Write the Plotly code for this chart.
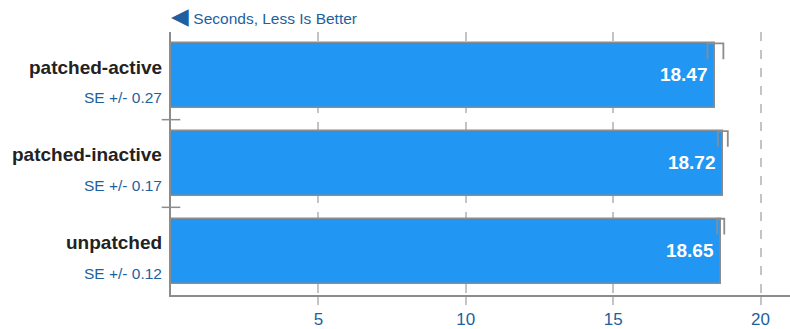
import plotly.graph_objects as go

categories = ["patched-active", "patched-inactive", "unpatched"]
values = [18.47, 18.72, 18.65]
se = [0.27, 0.17, 0.12]
x_ticks = [5, 10, 15, 20]
unit_label = "Seconds, Less Is Better"

BAR_COLOR = "#2196f3"
EDGE = "#8c8c8c"
BLUE_TEXT = "#1e5f9e"
FONT = "Liberation Sans, Arial, Helvetica, sans-serif"

n = len(categories)
ypos = [n - 1 - i for i in range(n)]  # first category at top
half = 0.37

fig = go.Figure()
fig.add_trace(go.Bar(
    x=values, y=ypos, orientation="h", width=2 * half,
    marker=dict(color=BAR_COLOR, line=dict(color=EDGE, width=1.5)),
    text=[f"{v:.2f}\u2009" for v in values], textposition="inside",
    insidetextanchor="end",
    textfont=dict(color="white", size=19, family=FONT, weight="bold"),
    hoverinfo="skip", showlegend=False,
))

ex, ey = [], []
for v, s, y in zip(values, se, ypos):
    ex += [v - s, v - s, v + s, v + s, None]
    ey += [y + 0.19, y + half, y + half, y + 0.19, None]
fig.add_trace(go.Scatter(x=ex, y=ey, mode="lines",
                         line=dict(color=EDGE, width=1.8),
                         hoverinfo="skip", showlegend=False))

annotations = []
for c, s, y in zip(categories, se, ypos):
    annotations.append(dict(x=-0.012, xref="paper", y=y + 0.1, yref="y",
                            text=f"<b>{c}</b>", showarrow=False, xanchor="right",
                            yanchor="middle",
                            font=dict(size=19, color="#222222", family=FONT)))
    annotations.append(dict(x=-0.012, xref="paper", y=y - 0.25, yref="y",
                            text=f"SE +/- {s:.2f}", showarrow=False, xanchor="right",
                            yanchor="middle",
                            font=dict(size=15.5, color=BLUE_TEXT, family=FONT)))
annotations.append(dict(x=-0.004, xref="paper", y=1.0, yref="paper", yshift=16,
                        text=f"<span style='color:#1f5f9f;font-size:23px'>◀</span> {unit_label}",
                        showarrow=False, xanchor="left", yanchor="middle",
                        font=dict(size=15.5, color=BLUE_TEXT, family=FONT)))

shapes = []
for k in range(n - 1):
    shapes.append(dict(type="line", xref="paper", x0=-0.015, x1=0.015,
                       yref="y", y0=k + 0.5, y1=k + 0.5,
                       line=dict(color=EDGE, width=1.5)))

fig.update_layout(
    width=790, height=329,
    margin=dict(l=171, r=0, t=32, b=31),
    plot_bgcolor="white", paper_bgcolor="white",
    font=dict(family=FONT),
    bargap=0,
    annotations=annotations, shapes=shapes,
    xaxis=dict(range=[0, 21], tickvals=x_ticks, showgrid=True,
               gridcolor="#c4c4c4", griddash="dash", gridwidth=1.5,
               showline=True, linecolor=EDGE, linewidth=1.5,
               ticks="outside", ticklen=8, tickcolor="#c4c4c4", tickwidth=1.5,
               tickfont=dict(size=17, color=BLUE_TEXT, family=FONT),
               zeroline=False, fixedrange=True),
    yaxis=dict(range=[-0.5, n - 0.5], showgrid=False, zeroline=False,
               showline=True, linecolor=EDGE, linewidth=1.5,
               showticklabels=False, ticks="", fixedrange=True),
)

fig.write_html("out.html")
